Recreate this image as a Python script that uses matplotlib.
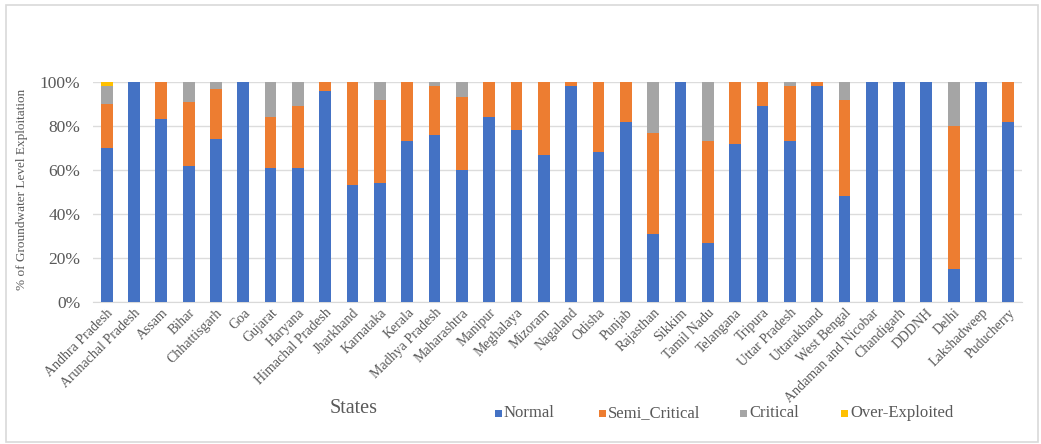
import matplotlib
matplotlib.use("Agg")
import matplotlib.pyplot as plt
from matplotlib.patches import Rectangle
import numpy as np

states = ["Andhra Pradesh", "Arunachal Pradesh", "Assam", "Bihar", "Chhattisgarh", "Goa",
          "Gujarat", "Haryana", "Himachal Pradesh", "Jharkhand", "Karnataka", "Kerala",
          "Madhya Pradesh", "Maharashtra", "Manipur", "Meghalaya", "Mizoram", "Nagaland",
          "Odisha", "Punjab", "Rajasthan", "Sikkim", "Tamil Nadu", "Telangana", "Tripura",
          "Uttar Pradesh", "Uttarakhand", "West Bengal", "Andaman and Nicobar", "Chandigarh",
          "DDDNH", "Delhi", "Lakshadweep", "Puducherry"]

normal =        [70, 100, 83, 62, 74, 100, 61, 61, 96, 53, 54, 73, 76, 60, 84, 78, 67, 98,
                 68, 82, 31, 100, 27, 72, 89, 73, 98, 48, 100, 100, 100, 15, 100, 82]
semi_critical = [20, 0, 17, 29, 23, 0, 23, 28, 4, 47, 38, 27, 22, 33, 16, 22, 33, 2,
                 32, 18, 46, 0, 46, 28, 11, 25, 2, 44, 0, 0, 0, 65, 0, 18]
critical =      [8, 0, 0, 9, 3, 0, 16, 11, 0, 0, 8, 0, 2, 7, 0, 0, 0, 0,
                 0, 0, 23, 0, 27, 0, 0, 2, 0, 8, 0, 0, 0, 20, 0, 0]
over_exploited = [2, 0, 0, 0, 0, 0, 0, 0, 0, 0, 0, 0, 0, 0, 0, 0, 0, 0,
                  0, 0, 0, 0, 0, 0, 0, 0, 0, 0, 0, 0, 0, 0, 0, 0]

series_names = ["Normal", "Semi_Critical", "Critical", "Over-Exploited"]
colors = ["#4472C4", "#ED7D31", "#A5A5A5", "#FFC000"]
y_ticks = [0, 20, 40, 60, 80, 100]
y_ticklabels = ["0%", "20%", "40%", "60%", "80%", "100%"]

serif = ["Liberation Serif", "DejaVu Serif"]
plt.rcParams['font.family'] = serif
txt_color = "#595959"

fig = plt.figure(figsize=(10.41, 4.44), dpi=100)
W, H = 1041, 444
# outer border
fig.patches.append(Rectangle((6 / W, 2 / H), 1032 / W, 437 / H, transform=fig.transFigure,
                             fill=False, edgecolor="#D9D9D9", linewidth=1.2))

ax = fig.add_axes([93 / W, 1 - 302 / H, (1022 - 93) / W, (302 - 82) / H])
x = np.arange(len(states))
bottom = np.zeros(len(states))
data = [normal, semi_critical, critical, over_exploited]
for vals, name, col in zip(data, series_names, colors):
    v = np.array(vals, dtype=float)
    ax.bar(x, v, bottom=bottom, width=0.43, color=col, label=name, zorder=3)
    bottom += v

ax.set_xlim(-0.5, len(states) - 0.5)
ax.set_ylim(0, 100)
ax.set_yticks(y_ticks)
ax.set_yticklabels(y_ticklabels, fontsize=12.5, color=txt_color)
ax.yaxis.grid(True, color="#DCDCDC", linewidth=1, zorder=0)
ax.tick_params(axis="y", length=0, pad=9)
ax.tick_params(axis="x", length=0, pad=3)
ax.set_xticks(x)
ax.set_xticklabels(states, rotation=45, ha="right", rotation_mode="anchor",
                   fontsize=10, color=txt_color)
for s in ["top", "right", "left"]:
    ax.spines[s].set_visible(False)
ax.spines["bottom"].set_color("#D9D9D9")

fig.text(22 / W, 1 - 189 / H, "% of Groundwater Level Exploitation", rotation=90,
         ha="center", va="center", fontsize=9.5, color=txt_color)
fig.text(354 / W, 1 - 408 / H, "States", ha="center", va="center", fontsize=14.5,
         color=txt_color)

# legend entries placed like the reference
leg_marker_x = [498, 602, 743, 844]
leg_y = 413
for name, col, mx in zip(series_names, colors, leg_marker_x):
    fig.patches.append(Rectangle(((mx - 3.5) / W, (H - leg_y - 3.5) / H), 7 / W, 7 / H,
                                 transform=fig.transFigure, facecolor=col, edgecolor="none"))
    fig.text((mx + 6) / W, 1 - leg_y / H, name, ha="left", va="center", fontsize=12,
             color=txt_color)

fig.savefig("out.png", dpi=100)
